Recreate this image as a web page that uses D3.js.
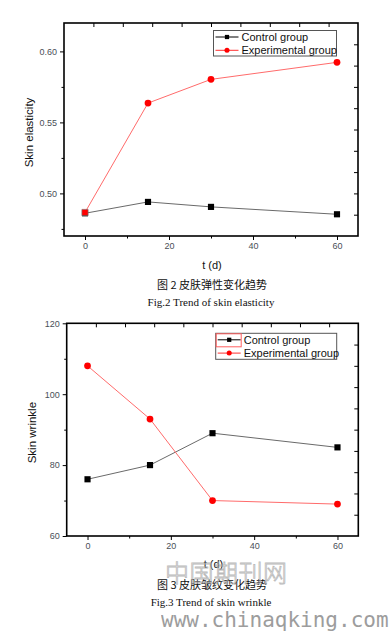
<!DOCTYPE html>
<html>
<head>
<meta charset="utf-8">
<script src="https://cdn.jsdelivr.net/npm/d3@7"></script>
<style>
  html, body { margin: 0; padding: 0; background: #fff; }
  svg { display: block; }
</style>
</head>
<body>
<svg id="chart" width="392" height="632"></svg>
<script>
// ---------- data ----------
const days = [0, 15, 30, 60];
const seriesNames = ["Control group", "Experimental group"];
const elasticityControl = [0.486, 0.494, 0.4905, 0.4853];
const elasticityExperimental = [0.4866, 0.5636, 0.5803, 0.5923];
const elasticityExpShapes = ["square", "circle", "circle", "circle"];
const wrinkleControl = [76, 80, 89, 85];
const wrinkleExperimental = [108, 93, 70, 69];
const wrinkleExpShapes = ["circle", "circle", "circle", "circle"];
const xTickValues = [0, 20, 40, 60];
const xMinorTicks = [10, 30, 50];
const elasticityTicks = [0.50, 0.55, 0.60];
const elasticityMinor = [0.475, 0.525, 0.575];
const wrinkleTicks = [60, 80, 100, 120];
const wrinkleMinor = [70, 90, 110];
const mirrorTicks = [1, 2, 3, 4, 5, 6, 7, 8, 9];

const svg = d3.select("#chart");
const sans = "'Liberation Sans', Arial, sans-serif";
const serif = "'Liberation Serif', 'Times New Roman', serif";
const cjk = "'Noto Sans CJK SC', sans-serif";

function drawChart(o) {
  const g = svg.append("g");
  const x = d3.scaleLinear().domain([-5, 65]).range([o.left, o.right]);
  const y = d3.scaleLinear().domain(o.yDomain).range([o.bottom, o.top]);
  const mx = d3.scaleLinear().domain([0, 10]).range([o.left, o.right]);
  const my = d3.scaleLinear().domain([0, 10]).range([o.bottom, o.top]);

  // axes: bottom
  const bx = g.append("g").attr("transform", `translate(0,${o.bottom})`)
    .call(d3.axisBottom(x).tickValues(xTickValues).tickSize(4).tickPadding(3).tickFormat(d3.format("d")));
  g.append("g").attr("transform", `translate(0,${o.bottom})`)
    .call(d3.axisBottom(x).tickValues(xMinorTicks).tickSize(2.5).tickFormat(""));
  // left
  g.append("g").attr("transform", `translate(${o.left},0)`)
    .call(d3.axisLeft(y).tickValues(o.yTicks).tickSize(4).tickPadding(3).tickFormat(o.yFormat));
  g.append("g").attr("transform", `translate(${o.left},0)`)
    .call(d3.axisLeft(y).tickValues(o.yMinor).tickSize(2.5).tickFormat(""));
  // top mirror (ticks pointing down)
  g.append("g").attr("transform", `translate(0,${o.top})`)
    .call(d3.axisBottom(mx).tickValues(mirrorTicks).tickSize(4).tickFormat(""));
  // right mirror (ticks pointing left)
  g.append("g").attr("transform", `translate(${o.right},0)`)
    .call(d3.axisLeft(my).tickValues(mirrorTicks).tickSize(4).tickFormat(""));

  g.selectAll(".domain").remove();
  g.selectAll(".tick line").attr("stroke", "#000").attr("stroke-width", 1);
  g.selectAll(".tick text").attr("fill", "#4a4f57").style("font-family", sans).style("font-size", "9px");

  // frame
  g.append("rect").attr("x", o.left).attr("y", o.top)
    .attr("width", o.right - o.left).attr("height", o.bottom - o.top)
    .attr("fill", "none").attr("stroke", "#000").attr("stroke-width", 1.6);

  // lines
  const line = d3.line().x((d, i) => x(days[i])).y(d => y(d));
  g.append("path").datum(o.control).attr("d", line)
    .attr("fill", "none").attr("stroke", "#6a6a6a").attr("stroke-width", 1);
  g.append("path").datum(o.experimental).attr("d", line)
    .attr("fill", "none").attr("stroke", "#ff6b6b").attr("stroke-width", 1);

  const sq = d3.symbol().type(d3.symbolSquare).size(38);
  const ci = d3.symbol().type(d3.symbolCircle).size(36);

  g.selectAll(".cm").data(o.control).join("path")
    .attr("d", sq).attr("transform", (d, i) => `translate(${x(days[i])},${y(d)})`)
    .attr("fill", "#000");
  g.selectAll(".em").data(o.experimental).join("path")
    .attr("d", (d, i) => o.expShapes[i] === "square" ? sq() : ci())
    .attr("transform", (d, i) => `translate(${x(days[i])},${y(d)})`)
    .attr("fill", "#ff0000")
    .attr("stroke", (d, i) => o.expShapes[i] === "square" ? "#777" : "none")
    .attr("stroke-width", 0.6);

  // axis titles
  g.append("text").attr("x", (o.left + o.right) / 2 + 1).attr("y", o.xTitleY)
    .attr("text-anchor", "middle").style("font-family", sans).style("font-size", "11px")
    .attr("fill", "#111").text("t (d)");
  g.append("text")
    .attr("transform", `translate(${o.yTitleX},${(o.top + o.bottom) / 2 + 3}) rotate(-90)`)
    .attr("text-anchor", "middle").style("font-family", sans).style("font-size", "11.5px")
    .attr("fill", "#111").text(o.yTitle);

  // legend
  const L = o.legend;
  g.append("rect").attr("x", L.x).attr("y", L.y).attr("width", L.w).attr("height", L.h)
    .attr("fill", "#fff").attr("stroke", "#555").attr("stroke-width", 1);
  const rows = [
    { name: seriesNames[0], color: "#000", line: "#000", sym: d3.symbol().type(d3.symbolSquare).size(18) },
    { name: seriesNames[1], color: "#ff0000", line: "#ff3030", sym: d3.symbol().type(d3.symbolCircle).size(20) }
  ];
  rows.forEach((r, i) => {
    const ry = L.y + 6.5 + i * 13.3;
    g.append("line").attr("x1", L.x + 2).attr("x2", L.x + 25).attr("y1", ry).attr("y2", ry)
      .attr("stroke", r.line).attr("stroke-width", 1);
    g.append("path").attr("d", r.sym).attr("transform", `translate(${L.x + 13.5},${ry})`).attr("fill", r.color);
    g.append("text").attr("x", L.x + 28).attr("y", ry + 4).style("font-family", sans)
      .style("font-size", "11px").attr("fill", "#111").text(r.name);
  });
  if (L.highlight) {
    g.append("rect").attr("x", L.x + 0.5).attr("y", L.y + 0.5).attr("width", 25).attr("height", 13)
      .attr("fill", "none").attr("stroke", "#ff6060").attr("stroke-width", 1);
  }

  // captions
  g.append("text").attr("x", 212).attr("y", o.capY1).attr("text-anchor", "middle")
    .style("font-family", cjk).style("font-size", "11px").attr("fill", "#111").text(o.cap1);
  g.append("text").attr("x", 211).attr("y", o.capY2).attr("text-anchor", "middle")
    .style("font-family", serif).style("font-size", "11px").attr("fill", "#111").text(o.cap2);
}

drawChart({
  left: 64, right: 358, top: 23, bottom: 236,
  yDomain: [0.47, 0.62], yTicks: elasticityTicks, yMinor: elasticityMinor, yFormat: d3.format(".2f"),
  control: elasticityControl, experimental: elasticityExperimental, expShapes: elasticityExpShapes,
  yTitle: "Skin elasticity", yTitleX: 33, xTitleY: 269,
  legend: { x: 213.5, y: 30.5, w: 123, h: 25.5, highlight: false },
  cap1: "图 2 皮肤弹性变化趋势", cap2: "Fig.2 Trend of skin elasticity", capY1: 289, capY2: 306
});

drawChart({
  left: 66.7, right: 358.3, top: 323.3, bottom: 536,
  yDomain: [60, 120], yTicks: wrinkleTicks, yMinor: wrinkleMinor, yFormat: d3.format("d"),
  control: wrinkleControl, experimental: wrinkleExperimental, expShapes: wrinkleExpShapes,
  yTitle: "Skin wrinkle", yTitleX: 36, xTitleY: 568,
  legend: { x: 215.7, y: 333.3, w: 121, h: 26, highlight: true },
  cap1: "图 3 皮肤皱纹变化趋势", cap2: "Fig.3 Trend of skin wrinkle", capY1: 589, capY2: 606
});

// watermarks
svg.append("text").attr("x", 165).attr("y", 582)
  .style("font-family", cjk).style("font-size", "24px").style("font-weight", "300")
  .attr("fill", "none").attr("stroke", "#aaa").attr("stroke-width", 0.8).attr("opacity", 0.8)
  .attr("textLength", 122).text("中国期刊网");
svg.append("text").attr("x", 161).attr("y", 627)
  .style("font-family", "'DejaVu Sans Mono', monospace").style("font-size", "21px")
  .attr("fill", "#8c8c8c").attr("opacity", 0.85).text("www.chinaqking.com");
</script>
</body>
</html>
